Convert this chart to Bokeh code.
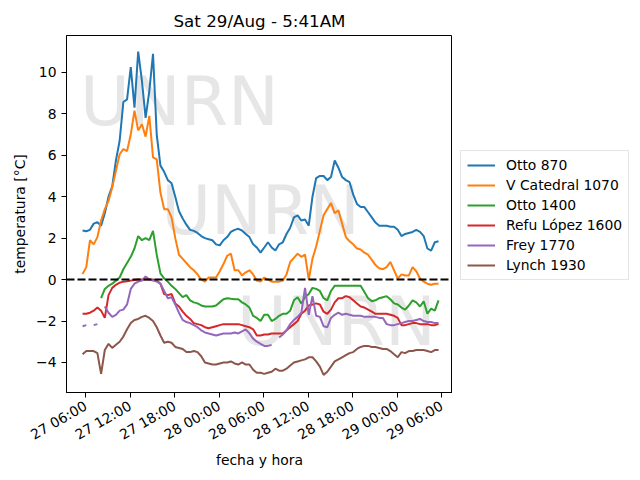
import math
import pandas as pd
from bokeh.plotting import figure
from bokeh.layouts import row
from bokeh.models import (ColumnDataSource, Range1d, Span, Label, Legend, LegendItem,
                          FixedTicker, DatetimeTickFormatter)
from bokeh.embed import file_html
from bokeh.resources import INLINE

nan = float("nan")

# lecturas cada 30 minutos desde el 27/08 05:35
fechas = pd.date_range("2020-08-27 05:35", periods=97, freq="30min")

otto_870 = [2.37, 2.33, 2.4, 2.7, 2.77, 2.6, 3.2, 4.0, 4.5, 5.75,
            6.7, 8.57, 8.7, 10.25, 8.3, 11.0, 9.6, 7.8, 9.1, 10.9,
            7.0, 5.5, 5.2, 4.8, 4.65, 4.0, 3.3, 2.95, 2.65, 2.4,
            2.35, 2.25, 2.1, 2.0, 1.95, 1.9, 1.7, 1.65, 1.9, 2.05,
            2.3, 2.4, 2.45, 2.37, 2.2, 2.05, 1.7, 1.55, 1.3, 1.55,
            1.8, 1.55, 1.4, 1.7, 1.8, 2.2, 2.5, 3.0, 3.1, 2.85,
            2.9, 2.6, 4.0, 4.9, 5.0, 5.0, 4.8, 4.95, 5.75, 5.4,
            4.95, 4.8, 4.7, 4.1, 3.65, 3.5, 3.5, 3.25, 3.0, 2.75,
            2.6, 2.6, 2.6, 2.55, 2.55, 2.4, 2.1, 2.2, 2.25, 2.3,
            2.4, 2.3, 2.1, 1.5, 1.4, 1.8, 1.85]

catedral_1070 = [0.27, 0.6, 1.9, 1.7, 2.05, 2.85, 3.4, 3.8, 4.45, 5.25,
                 6.05, 6.3, 6.2, 7.0, 8.15, 7.2, 7.5, 6.9, 7.9, 5.9,
                 5.8, 4.2, 3.4, 3.4, 3.0, 2.0, 1.2, 1.0, 0.8, 0.6,
                 0.45, 0.25, 0.0, -0.1, 0.1, 0.1, 0.1, 0.4, 0.75, 1.15,
                 1.25, 0.45, 0.45, 0.2, 0.35, 0.45, 0.25, -0.05, -0.1, 0.1,
                 0.0, -0.1, -0.1, -0.1, -0.05, 0.25, 0.85, 1.05, 1.25, 1.1,
                 1.2, 0.0, 1.0, 1.6, 2.35, 3.1, 3.4, 3.7, 3.2, 3.35,
                 2.7, 2.05, 1.85, 1.7, 1.5, 1.45, 1.3, 1.2, 0.95, 0.7,
                 0.55, 0.5, 0.6, 0.85, 0.45, 0.05, 0.25, 0.2, 0.2, 0.6,
                 0.4, 0.05, -0.1, -0.2, -0.25, -0.2, -0.2]

otto_1400 = [nan, nan, nan, nan, nan, -0.9, -0.45, -0.3, -0.2, -0.05,
             0.1, 0.5, 0.8, 1.1, 1.5, 2.1, 1.9, 2.0, 1.9, 2.35,
             1.2, 0.3, 0.05, -0.1, -0.3, -0.45, -0.65, -0.85, -0.75, -1.0,
             -1.1, -1.15, -1.25, -1.3, -1.3, -1.3, -1.25, -1.1, -0.95, -0.9,
             -0.93, -0.95, -0.95, -1.1, -1.2, -1.35, -1.75, -1.85, -2.0, -1.7,
             -1.7, -2.0, -1.9, -1.75, -1.65, -1.65, -1.5, -1.0, -0.85, -1.15,
             -0.85, -0.7, -0.4, -0.45, -0.55, -0.9, -1.0, -0.55, -0.3, -0.3,
             -0.3, -0.3, -0.3, -0.3, -0.3, -0.3, -0.6, -0.9, -1.05, -1.0,
             -0.9, -0.85, -0.8, -0.95, -1.15, -1.2, -1.35, -1.45, -1.25, -1.0,
             -1.1, -1.3, -1.05, -1.65, -1.4, -1.5, -1.0]

refu_1600 = [-1.65, -1.65, -1.6, -1.5, -1.35, -1.5, -1.85, -0.75, -0.4, -0.25,
             -0.15, -0.1, -0.08, -0.05, -0.02, 0.0, 0.0, 0.0, 0.0, 0.0,
             -0.05, -0.2, -0.7, -0.75, -0.7, -1.15, -1.3, -1.55, -1.75, -1.9,
             -2.1, -2.15, -2.2, -2.3, -2.35, -2.3, -2.25, -2.2, -2.15, -2.15,
             -2.15, -2.15, -2.15, -2.2, -2.25, -2.3, -2.4, -2.7, -2.7, -2.65,
             -2.65, -2.6, -2.6, -2.6, -2.6, -2.45, -2.3, -2.15, -2.0, -1.65,
             -1.5, -1.25, -1.2, -1.15, -1.2, -1.55, -1.65, -1.45, -1.1, -0.9,
             -0.9, -0.8, -0.85, -1.0, -1.15, -1.3, -1.35, -1.45, -1.55, -1.65,
             -1.65, -1.65, -1.65, -1.7, -1.75, -1.85, -2.2, -2.2, -2.15, -2.1,
             -2.1, -2.15, -2.15, -2.15, -2.2, -2.2, -2.15]

frey_1770 = [-2.25, -2.2, nan, -2.2, -2.15, nan, -1.3, -1.6, -1.8, -1.7,
             -1.5, -1.45, -1.2, -0.45, -0.2, -0.1, -0.05, 0.15, 0.0, -0.05,
             -0.1, -0.2, -0.55, -0.9, -0.85, -1.2, -1.6, -1.95, -2.05, -2.1,
             -2.2, -2.3, -2.45, -2.55, -2.6, -2.65, -2.7, -2.65, -2.6, -2.6,
             -2.6, -2.55, -2.6, -2.5, -2.4, -2.6, -2.85, -3.0, -3.1, -3.2,
             -3.2, -3.15, nan, -2.8, -2.65, -2.45, -2.15, -1.95, -1.8, -1.6,
             -0.4, -1.7, -0.8, -1.75, -1.8, -2.25, -2.3, -1.85, -1.7, -1.6,
             -1.7, -1.65, -1.7, -1.75, -1.75, -1.75, -1.8, -1.8, -1.8, -1.8,
             -1.85, -1.85, -2.15, -2.2, -2.2, -2.15, -2.1, -2.05, -2.0, -2.0,
             -1.95, -1.9, -2.0, -2.05, -2.05, -2.1, -2.1]

lynch_1930 = [-3.6, -3.45, -3.45, -3.45, -3.55, -4.55, -3.4, -3.1, -3.3, -3.15,
              -3.0, -2.75, -2.4, -2.1, -1.95, -1.9, -1.8, -1.75, -1.85, -2.0,
              -2.3, -2.7, -3.05, -3.0, -3.05, -3.25, -3.3, -3.35, -3.5, -3.5,
              -3.45, -3.5, -3.7, -4.0, -4.05, -4.1, -4.1, -4.05, -4.0, -4.0,
              -3.95, -4.05, -4.1, -4.0, -4.1, -4.1, -4.35, -4.5, -4.5, -4.55,
              -4.5, -4.45, -4.3, -4.4, -4.4, -4.3, -4.15, -4.0, -3.95, -3.9,
              -3.85, -3.75, -3.75, -3.95, -4.2, -4.6, -4.45, -4.2, -3.95, -3.85,
              -3.75, -3.65, -3.55, -3.5, -3.35, -3.25, -3.2, -3.2, -3.25, -3.25,
              -3.3, -3.35, -3.35, -3.45, -3.6, -3.75, -3.5, -3.55, -3.45, -3.45,
              -3.4, -3.4, -3.4, -3.45, -3.5, -3.4, -3.4]

nombres = ["Otto 870", "V Catedral 1070", "Otto 1400", "Refu López 1600", "Frey 1770", "Lynch 1930"]
columnas = ["otto_870", "catedral_1070", "otto_1400", "refu_1600", "frey_1770", "lynch_1930"]
colores = ["#1f77b4", "#ff7f0e", "#2ca02c", "#d62728", "#9467bd", "#8c564b"]

source = ColumnDataSource(data={
    'fecha': fechas,
    'otto_870': otto_870,
    'catedral_1070': catedral_1070,
    'otto_1400': otto_1400,
    'refu_1600': refu_1600,
    'frey_1770': frey_1770,
    'lynch_1930': lynch_1930,
})

FONT = "DejaVu Sans"

def ms(s):
    return pd.Timestamp(s).value / 1e6

p = figure(title="Sat 29/Aug - 5:41AM", x_axis_type="datetime",
           x_range=Range1d(ms("2020-08-27 03:25"), ms("2020-08-29 07:28")),
           y_range=Range1d(-5.45, 11.78),
           width=452, height=480,
           min_border_left=66, min_border_top=35, min_border_bottom=88, min_border_right=0,
           output_backend="svg", toolbar_location=None)

# marca de agua
for xs, ys in [("2020-08-27 18:39", 8.6), ("2020-08-28 05:35", 3.35), ("2020-08-28 15:49", -2.0)]:
    p.add_layout(Label(x=ms(xs), y=ys, text="UNRN", text_align="center",
                       text_baseline="alphabetic", text_font=FONT,
                       text_font_size="68px", text_color="#e6e6e6", level="underlay"))

for col, color in zip(columnas, colores):
    p.line('fecha', col, source=source, line_color=color, line_width=2)

p.add_layout(Span(location=0, dimension="width", line_color="black",
                  line_dash="8 3", line_width=2))

p.title.align = "center"
p.title.text_font = FONT
p.title.text_font_size = "16.7px"
p.title.text_font_style = "normal"
p.title.text_color = "black"

tick_times = pd.date_range("2020-08-27 06:00", "2020-08-29 06:00", freq="6h")
p.xaxis.ticker = FixedTicker(ticks=[t.value / 1e6 for t in tick_times])
p.xaxis.formatter = DatetimeTickFormatter(hours="%d %H:%M", hourmin="%d %H:%M",
                                          days="%d %H:%M", minutes="%d %H:%M")
p.xaxis.major_label_orientation = math.pi / 6
p.xaxis.major_label_standoff = 7
p.xaxis.axis_label_standoff = 0
p.yaxis.ticker = FixedTicker(ticks=[-4, -2, 0, 2, 4, 6, 8, 10])
p.yaxis.major_label_overrides = {-4: "−4", -2: "−2"}

p.xaxis.axis_label = "fecha y hora"
p.yaxis.axis_label = "temperatura [°C]"
for ax in p.axis:
    ax.axis_label_text_font = FONT
    ax.axis_label_text_font_size = "13.9px"
    ax.axis_label_text_font_style = "normal"
    ax.axis_label_text_color = "black"
    ax.major_label_text_font = FONT
    ax.major_label_text_font_size = "13.9px"
    ax.major_label_text_color = "black"
    ax.axis_line_color = "black"
    ax.major_tick_line_color = "black"
    ax.major_tick_in = 0
    ax.major_tick_out = 5
    ax.minor_tick_out = 0
    ax.minor_tick_in = 0

p.xgrid.visible = False
p.ygrid.visible = False
p.outline_line_color = "black"
p.outline_line_alpha = 1

# leyenda en una figura aparte, a la derecha del gráfico
lf = figure(width=188, height=480, x_range=Range1d(0, 1), y_range=Range1d(0, 1),
            min_border=0, output_backend="svg", toolbar_location=None)
lf.axis.visible = False
lf.grid.visible = False
lf.outline_line_color = None

items = []
for nombre, col, color in zip(nombres, columnas, colores):
    # mismas series, fuera del rango visible: solo aportan la muestra de la leyenda
    r = lf.line('fecha', col, source=source, line_color=color, line_width=2)
    items.append(LegendItem(label=nombre, renderers=[r]))

legend = Legend(items=items, location=(8, 112))
legend.label_text_font = FONT
legend.label_text_font_size = "13.9px"
legend.label_text_color = "black"
legend.glyph_width = 28
legend.glyph_height = 14
legend.label_height = 14
legend.label_standoff = 11
legend.spacing = 4
legend.padding = 6
legend.margin = 0
legend.border_line_color = "#cccccc"
legend.background_fill_alpha = 0.8
lf.add_layout(legend)

layout = row(p, lf)

open("out.html", "w").write(file_html(layout, INLINE))
